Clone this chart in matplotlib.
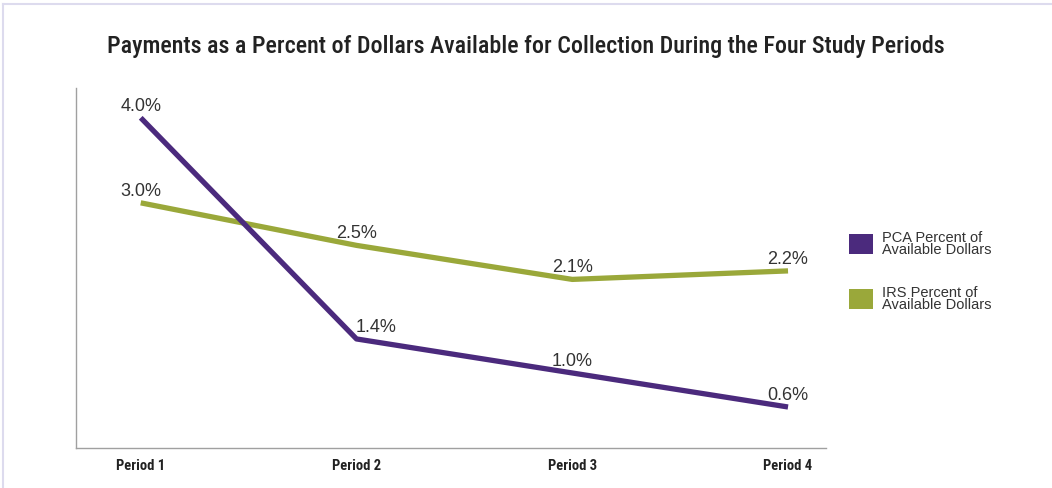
import matplotlib
matplotlib.use("Agg")
import matplotlib.pyplot as plt
from matplotlib.patches import Rectangle
from matplotlib.lines import Line2D

periods = ["Period 1", "Period 2", "Period 3", "Period 4"]
pca_values = [4.0, 1.4, 1.0, 0.6]
irs_values = [3.0, 2.5, 2.1, 2.2]
series_names = ["PCA Percent of\nAvailable Dollars", "IRS Percent of\nAvailable Dollars"]
title = "Payments as a Percent of Dollars Available for Collection During the Four Study Periods"

PURPLE = "#4b2a7d"
GREEN = "#9aa83a"
TXT = "#333333"
COND = ["Roboto Condensed", "DejaVu Sans"]
BODY = ["Liberation Sans", "DejaVu Sans"]

W, H = 1052, 488
fig = plt.figure(figsize=(W / 100, H / 100), dpi=100)

def fx(px):
    return px / W

def fy(py):
    return 1 - py / H

ax = fig.add_axes([fx(76), fy(448), fx(826) - fx(76), fy(88) - fy(448)])
x = list(range(len(periods)))
ax.plot(x, irs_values, color=GREEN, lw=3.8, solid_capstyle="butt", zorder=3)
ax.plot(x, pca_values, color=PURPLE, lw=3.8, solid_capstyle="butt", zorder=4)
ax.set_xlim(-0.3, 3.176)
ax.set_ylim(0.118, 4.35)

for spine in ["top", "right"]:
    ax.spines[spine].set_visible(False)
for spine in ["left", "bottom"]:
    ax.spines[spine].set_color("#a0a0a0")
    ax.spines[spine].set_linewidth(1.0)
ax.set_yticks([])
ax.set_xticks(x)
ax.set_xticklabels(periods, fontfamily=COND, fontweight="bold", fontsize=10.5, color="#222222")
ax.tick_params(axis="x", length=0, pad=8)

offsets_pca = [0, 20, 0, 0]
for i, v in enumerate(pca_values):
    ax.annotate(f"{v:.1f}%", (i, v), xytext=(offsets_pca[i], 3), textcoords="offset pixels",
                ha="center", va="bottom", fontsize=13, color=TXT, fontfamily=BODY)
for i, v in enumerate(irs_values):
    ax.annotate(f"{v:.1f}%", (i, v), xytext=(0, 3), textcoords="offset pixels",
                ha="center", va="bottom", fontsize=13, color=TXT, fontfamily=BODY)

fig.text(fx(526), fy(47), title, ha="center", va="center", fontsize=17.3,
         fontfamily=COND, fontweight=500, color="#222222")

# legend
for (name, col, top) in [(series_names[0], PURPLE, 234), (series_names[1], GREEN, 289)]:
    fig.patches.append(Rectangle((fx(849), fy(top + 20)), fx(873) - fx(849), fy(top) - fy(top + 20),
                                 transform=fig.transFigure, facecolor=col, edgecolor="none"))
    fig.text(fx(882), fy(top - 3), name, ha="left", va="top", fontsize=10.5, color=TXT,
             fontfamily=BODY, linespacing=0.85)

# light frame
fig.add_artist(Line2D([fx(3), 1], [fy(4), fy(4)], color="#dddbee", lw=1.5, transform=fig.transFigure))
fig.add_artist(Line2D([fx(3), fx(3)], [0, fy(4)], color="#dddbee", lw=1.5, transform=fig.transFigure))

fig.savefig("out.png", dpi=100, facecolor="white")
